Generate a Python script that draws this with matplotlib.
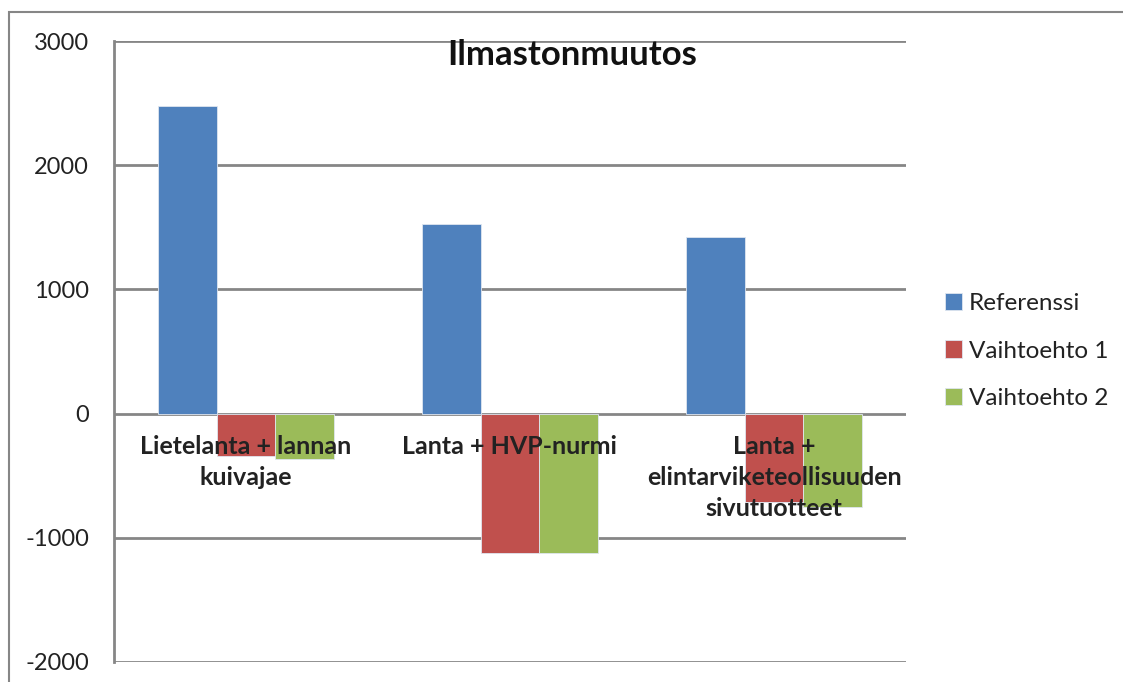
import numpy as np
import matplotlib.pyplot as plt
from matplotlib.patches import Rectangle

categories = ["Lietelanta + lannan\nkuivajae", "Lanta + HVP-nurmi",
              "Lanta +\nelintarviketeollisuuden\nsivutuotteet"]
series_names = ["Referenssi", "Vaihtoehto 1", "Vaihtoehto 2"]
referenssi = [2480, 1525, 1420]
vaihtoehto1 = [-340, -1125, -715]
vaihtoehto2 = [-365, -1120, -750]
y_ticks = [-2000, -1000, 0, 1000, 2000, 3000]

colors = ["#4F81BD", "#C0504D", "#9BBB59"]
grid_col = "#868686"

plt.rcParams['font.family'] = ['Lato', 'DejaVu Sans']

fig = plt.figure(figsize=(11.23, 6.82), dpi=100)
ax = fig.add_axes([114 / 1123, 1 - 662 / 682, (906 - 114) / 1123, (662 - 41) / 682])

# outer chart frame, runs off the right and bottom edges
fig.patches.append(Rectangle((9 / 1123, -0.1), 2, (682 - 12) / 682 + 0.1,
                             transform=fig.transFigure, fill=False,
                             edgecolor=grid_col, linewidth=1.5))

x = np.arange(len(categories))
w = 1 / 4.5
for i, vals in enumerate([referenssi, vaihtoehto1, vaihtoehto2]):
    ax.bar(x + (i - 1) * w, vals, w, color=colors[i], label=series_names[i],
           edgecolor="#dfe6f0", linewidth=0.6, zorder=3)

ax.set_xlim(-0.5, 2.5)
ax.set_ylim(-2000, 3000)
ax.set_yticks(y_ticks)
ax.set_yticklabels([str(v) for v in y_ticks], fontsize=17, color="#222222")
ax.tick_params(axis='y', length=0, pad=18)
ax.tick_params(axis='x', length=0)
ax.set_xticks([])
ax.yaxis.grid(True, color=grid_col, linewidth=2, zorder=0)

for s in ["top", "right", "bottom"]:
    ax.spines[s].set_visible(False)
ax.spines["left"].set_color(grid_col)
ax.spines["left"].set_linewidth(2)

# category labels hang just below the zero line
for xi, lab in zip(x, categories):
    ax.text(xi, -170, lab, ha="center", va="top", fontsize=18, fontweight="bold",
            color="#222222", linespacing=1.42, zorder=4)

fig.text(572 / 1123, 1 - 55 / 682, "Ilmastonmuutos", ha="center", va="center",
         fontsize=25, fontweight="bold", color="#111111")

leg = ax.legend(loc="center left", bbox_to_anchor=(923 / 1123, 1 - 351 / 682),
                bbox_transform=fig.transFigure, frameon=False, fontsize=17.5,
                handlelength=0.7, handleheight=0.7, handletextpad=0.3,
                labelspacing=1.1)
for t in leg.get_texts():
    t.set_color("#222222")

fig.savefig("out.png", dpi=100)
